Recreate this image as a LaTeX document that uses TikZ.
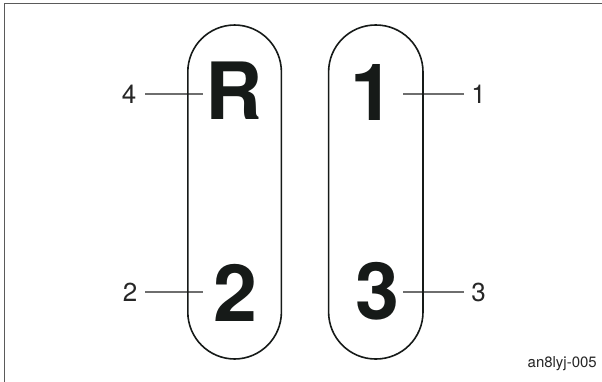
\documentclass[tikz,border=0pt]{standalone}
\usepackage{fontspec}
\setmainfont{TeX Gyre Heros}
\definecolor{ink}{HTML}{161A18}
\definecolor{labelc}{HTML}{262626}
\definecolor{leadc}{HTML}{6E6E6E}
\definecolor{framec}{HTML}{5A5A5A}
\begin{document}
\begin{tikzpicture}[x=1pt,y=-1pt,
  capsule/.style={draw=ink,line width=1.6pt,rounded corners=47pt},
  bigglyph/.style={anchor=base,inner sep=0pt,text=ink,font=\fontsize{79}{79}\selectfont\bfseries},
  callout/.style={anchor=base,inner sep=0pt,text=labelc,font=\fontsize{26}{26}\selectfont},
  leader/.style={draw=leadc,line width=1.1pt},
  tag/.style={anchor=base east,inner sep=0pt,text=labelc,font=\fontsize{15}{15}\selectfont}]
\useasboundingbox (0,0) rectangle (602,381);
\clip (0,0) rectangle (602,381);
\draw[framec,line width=1pt] (4.3,3.5) rectangle (640,420);
% leader lines (under the capsules)
\coordinate (a4) at (145,94);  \coordinate (b4) at (203,94);
\coordinate (a2) at (145,292); \coordinate (b2) at (203,292);
\coordinate (a1) at (464,94);  \coordinate (b1) at (403,94);
\coordinate (a3) at (464,292); \coordinate (b3) at (403,292);
\draw[leader] (a4) -- (b4);
\draw[leader] (a2) -- (b2);
\draw[leader] (a1) -- (b1);
\draw[leader] (a3) -- (b3);
% capsules
\draw[capsule] (187.8,25) rectangle (281.4,359);
\draw[capsule] (328.6,25) rectangle (423,359);
% big glyphs
\node[bigglyph] (gR) at (234,119) {R};
\node[bigglyph] (g2) at (235,321) {2};
\node[bigglyph] (g1) at (372,120) {1};
\node[bigglyph] (g3) at (377,319.5) {3};
% callout numbers
\node[callout] (n4) at (129,103) {4};
\node[callout] (n2) at (130,301) {2};
\node[callout] (n1) at (478.5,103) {1};
\node[callout] (n3) at (478.5,301) {3};
\node[tag] (tag) at (597,367) {an8lyj-005};
\end{tikzpicture}
\end{document}
